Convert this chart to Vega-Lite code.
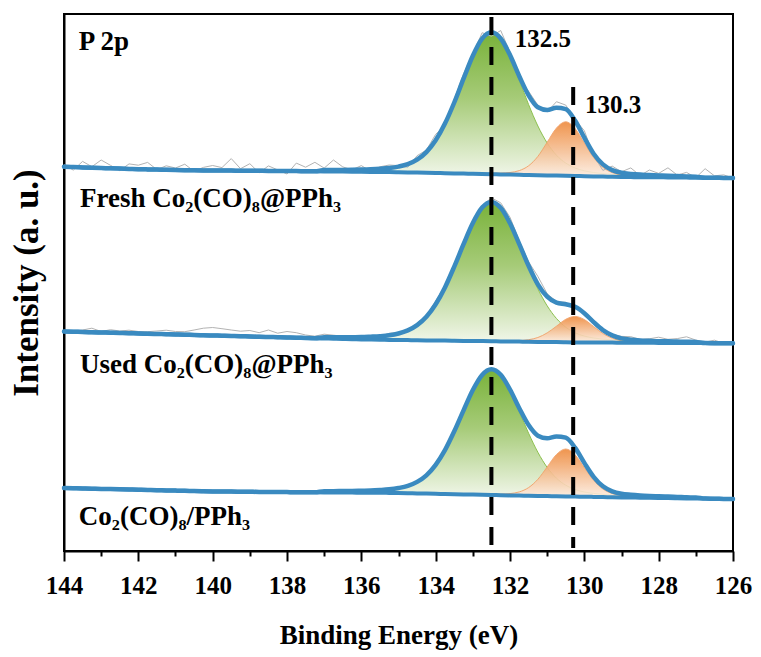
{
"$schema": "https://vega.github.io/schema/vega-lite/v6.json",
"width": 669, "height": 537,
"autosize": {"type": "none"},
"padding": {"left": 64, "top": 14, "right": 28, "bottom": 106},
"background": "white",
"config": {
 "view": {"stroke": "black", "strokeWidth": 2},
 "font": "Liberation Serif, serif",
 "style": {"guide-label": {"font": "Liberation Serif, serif", "fontWeight": "bold", "fill": "black"}, "guide-title": {"font": "Liberation Serif, serif", "fontWeight": "bold", "fill": "black"}},
 "axis": {"labelFont": "Liberation Serif, serif", "titleFont": "Liberation Serif, serif", "labelFontWeight": "bold", "titleFontWeight": "bold", "labelColor": "black", "titleColor": "black", "grid": false, "domainColor": "black", "tickColor": "black"}
},
"resolve": {"axis": {"x": "independent"}},
"datasets": {
"s": [
{"p":"a","E":144,"bg":384.3,"env":384.3,"raw":386.3},
{"p":"a","E":143.75,"bg":383.9,"env":383.9,"raw":380.9},
{"p":"a","E":143.5,"bg":383.6,"env":383.6,"raw":389.6},
{"p":"a","E":143.25,"bg":383.3,"env":383.3,"raw":384.3},
{"p":"a","E":143,"bg":383,"env":383,"raw":391},
{"p":"a","E":142.75,"bg":382.7,"env":382.7,"raw":385.7},
{"p":"a","E":142.5,"bg":382.4,"env":382.4,"raw":380.4},
{"p":"a","E":142.25,"bg":382.1,"env":382.1,"raw":387.1},
{"p":"a","E":142,"bg":381.8,"env":381.8,"raw":385.8},
{"p":"a","E":141.75,"bg":381.6,"env":381.6,"raw":388.6},
{"p":"a","E":141.5,"bg":381.4,"env":381.4,"raw":381.4},
{"p":"a","E":141.25,"bg":381.2,"env":381.2,"raw":385.2},
{"p":"a","E":141,"bg":381,"env":381,"raw":383},
{"p":"a","E":140.75,"bg":380.8,"env":380.8,"raw":386.8},
{"p":"a","E":140.5,"bg":380.7,"env":380.7,"raw":379.7},
{"p":"a","E":140.25,"bg":380.6,"env":380.6,"raw":383.6},
{"p":"a","E":140,"bg":380.5,"env":380.5,"raw":385.5},
{"p":"a","E":139.75,"bg":380.4,"env":380.4,"raw":383.4},
{"p":"a","E":139.5,"bg":380.4,"env":380.4,"raw":392.4},
{"p":"a","E":139.25,"bg":380.3,"env":380.3,"raw":382.3},
{"p":"a","E":139,"bg":380.3,"env":380.3,"raw":387.3},
{"p":"a","E":138.75,"bg":380.2,"env":380.2,"raw":378.2},
{"p":"a","E":138.5,"bg":380.1,"env":380.1,"raw":385.1},
{"p":"a","E":138.25,"bg":380.1,"env":380.1,"raw":381.1},
{"p":"a","E":138,"bg":380,"env":380,"raw":377},
{"p":"a","E":137.75,"bg":379.9,"env":379.9,"raw":387.9},
{"p":"a","E":137.5,"bg":379.8,"env":379.8,"raw":383.8},
{"p":"a","E":137.25,"bg":379.7,"env":379.7,"raw":388.7},
{"p":"a","E":137,"bg":379.6,"env":380.9,"raw":382.9},
{"p":"a","E":136.75,"bg":379.5,"env":381,"raw":391},
{"p":"a","E":136.5,"bg":379.4,"env":381.1,"raw":384.1},
{"p":"a","E":136.25,"bg":379.3,"env":381.2,"raw":381.2},
{"p":"a","E":136,"bg":379.2,"env":381.4,"gt":381.3,"ot":379.3,"raw":385.4},
{"p":"a","E":135.75,"bg":379.1,"env":381.7,"gt":381.6,"ot":379.2,"raw":379.7},
{"p":"a","E":135.5,"bg":379,"env":382.2,"gt":382,"ot":379.2,"raw":384.2},
{"p":"a","E":135.25,"bg":378.9,"env":383,"gt":382.8,"ot":379.1,"raw":386},
{"p":"a","E":135,"bg":378.8,"env":384.4,"gt":384.2,"ot":379,"raw":385.4},
{"p":"a","E":134.75,"bg":378.6,"env":386.8,"gt":386.6,"ot":378.8,"raw":383.8},
{"p":"a","E":134.5,"bg":378.4,"env":391.3,"gt":391.1,"ot":378.6,"raw":395.3},
{"p":"a","E":134.25,"bg":378.2,"env":398.9,"gt":398.6,"ot":378.5,"raw":400.9},
{"p":"a","E":134,"bg":378,"env":410.7,"gt":410.4,"ot":378.3,"raw":416.7},
{"p":"a","E":133.75,"bg":377.8,"env":427.4,"gt":427,"ot":378.2,"raw":425.4},
{"p":"a","E":133.5,"bg":377.6,"env":448.5,"gt":448.1,"ot":378,"raw":451.5},
{"p":"a","E":133.25,"bg":377.4,"env":472.3,"gt":471.8,"ot":377.9,"raw":477.3},
{"p":"a","E":133,"bg":377.2,"env":495.2,"gt":494.6,"ot":377.8,"raw":497.2},
{"p":"a","E":132.75,"bg":377,"env":512.3,"gt":511.6,"ot":377.7,"raw":518.3},
{"p":"a","E":132.5,"bg":376.8,"env":518.7,"gt":517.8,"ot":377.7,"raw":514.7},
{"p":"a","E":132.25,"bg":376.6,"env":512.5,"gt":511.2,"ot":377.9,"raw":520.5},
{"p":"a","E":132,"bg":376.4,"env":495.9,"gt":493.8,"ot":378.5,"raw":498.9},
{"p":"a","E":131.75,"bg":376.2,"env":474.8,"gt":470.6,"ot":380.4,"raw":471.8},
{"p":"a","E":131.5,"bg":376,"env":455.7,"gt":446.5,"ot":385.2,"raw":459.7},
{"p":"a","E":131.25,"bg":375.8,"env":443.8,"gt":425,"ot":394.6,"raw":445.8},
{"p":"a","E":131,"bg":375.6,"env":441.1,"gt":408,"ot":408.7,"raw":439.1},
{"p":"a","E":130.75,"bg":375.4,"env":443.3,"gt":395.8,"ot":422.9,"raw":449.3},
{"p":"a","E":130.5,"bg":375.2,"env":441.9,"gt":387.9,"ot":429.2,"raw":445.9},
{"p":"a","E":130.25,"bg":375,"env":430.5,"gt":383,"ot":422.5,"raw":431.5},
{"p":"a","E":130,"bg":374.8,"env":413.3,"gt":380.2,"ot":407.9,"raw":420.3},
{"p":"a","E":129.75,"bg":374.6,"env":397.3,"gt":378.5,"ot":393.4,"raw":395.3},
{"p":"a","E":129.5,"bg":374.4,"env":386.6,"gt":377.4,"ot":383.6,"raw":380.6},
{"p":"a","E":129.25,"bg":374.2,"env":380.9,"gt":376.7,"ot":378.4,"raw":384.9},
{"p":"a","E":129,"bg":374,"env":378.2,"gt":376.1,"ot":376.1,"raw":379.2},
{"p":"a","E":128.75,"bg":373.9,"env":377.1,"gt":375.8,"ot":375.2,"raw":383.1},
{"p":"a","E":128.5,"bg":373.8,"env":376.4,"gt":375.5,"ot":374.7,"raw":375.4},
{"p":"a","E":128.25,"bg":373.8,"env":376,"gt":375.3,"ot":374.5,"raw":381},
{"p":"a","E":128,"bg":373.7,"env":375.6,"gt":375,"ot":374.3,"raw":377.6},
{"p":"a","E":127.75,"bg":373.6,"env":375.2,"raw":383.2},
{"p":"a","E":127.5,"bg":373.5,"env":374.9,"raw":375.9},
{"p":"a","E":127.25,"bg":373.4,"env":374.6,"raw":378.6},
{"p":"a","E":127,"bg":373.3,"env":374.3,"raw":373.3},
{"p":"a","E":126.75,"bg":373.3,"env":373.3,"raw":382.3},
{"p":"a","E":126.5,"bg":373.2,"env":373.2,"raw":375.2},
{"p":"a","E":126.25,"bg":373.1,"env":373.1,"raw":376.1},
{"p":"a","E":126,"bg":373,"env":373,"raw":373},
{"p":"b","E":144,"bg":219.5,"env":219.5,"raw":220.5},
{"p":"b","E":143.75,"bg":219.3,"env":219.3,"raw":219.3},
{"p":"b","E":143.5,"bg":219,"env":219,"raw":221},
{"p":"b","E":143.25,"bg":218.8,"env":218.8,"raw":222.8},
{"p":"b","E":143,"bg":218.5,"env":218.5,"raw":219.5},
{"p":"b","E":142.75,"bg":218.3,"env":218.3,"raw":221.3},
{"p":"b","E":142.5,"bg":218,"env":218,"raw":220},
{"p":"b","E":142.25,"bg":217.8,"env":217.8,"raw":220.8},
{"p":"b","E":142,"bg":217.5,"env":217.5,"raw":219.5},
{"p":"b","E":141.75,"bg":217.3,"env":217.3,"raw":219.3},
{"p":"b","E":141.5,"bg":217,"env":217,"raw":220},
{"p":"b","E":141.25,"bg":216.8,"env":216.8,"raw":220.8},
{"p":"b","E":141,"bg":216.5,"env":216.5,"raw":219.5},
{"p":"b","E":140.75,"bg":216.3,"env":216.3,"raw":219.3},
{"p":"b","E":140.5,"bg":216,"env":216,"raw":221},
{"p":"b","E":140.25,"bg":215.8,"env":215.8,"raw":222.8},
{"p":"b","E":140,"bg":215.5,"env":215.5,"raw":223.5},
{"p":"b","E":139.75,"bg":215.3,"env":215.3,"raw":222.3},
{"p":"b","E":139.5,"bg":215,"env":215,"raw":221},
{"p":"b","E":139.25,"bg":214.8,"env":214.8,"raw":219.8},
{"p":"b","E":139,"bg":214.5,"env":214.5,"raw":220.5},
{"p":"b","E":138.75,"bg":214.3,"env":214.3,"raw":218.3},
{"p":"b","E":138.5,"bg":214,"env":214,"raw":221},
{"p":"b","E":138.25,"bg":213.8,"env":213.8,"raw":217.8},
{"p":"b","E":138,"bg":213.5,"env":213.5,"raw":219.5},
{"p":"b","E":137.75,"bg":213.3,"env":213.3,"raw":218.3},
{"p":"b","E":137.5,"bg":213,"env":213,"raw":216},
{"p":"b","E":137.25,"bg":212.8,"env":212.8,"raw":214.8},
{"p":"b","E":137,"bg":212.5,"env":213.8,"raw":216.8},
{"p":"b","E":136.75,"bg":212.3,"env":213.8,"raw":215.8},
{"p":"b","E":136.5,"bg":212,"env":213.7,"raw":214.7},
{"p":"b","E":136.25,"bg":211.8,"env":213.8,"raw":213.8},
{"p":"b","E":136,"bg":211.5,"env":213.9,"gt":213.8,"ot":211.6,"raw":212.9},
{"p":"b","E":135.75,"bg":211.4,"env":214.3,"gt":214.2,"ot":211.5,"raw":215.3},
{"p":"b","E":135.5,"bg":211.3,"env":214.8,"gt":214.7,"ot":211.4,"raw":214.8},
{"p":"b","E":135.25,"bg":211.1,"env":215.7,"gt":215.6,"ot":211.2,"raw":217.7},
{"p":"b","E":135,"bg":211,"env":217.5,"gt":217.4,"ot":211.1,"raw":218.5},
{"p":"b","E":134.75,"bg":210.9,"env":220.6,"gt":220.5,"ot":211,"raw":219.6},
{"p":"b","E":134.5,"bg":210.8,"env":225.9,"gt":225.8,"ot":210.9,"raw":227.9},
{"p":"b","E":134.25,"bg":210.6,"env":234.3,"gt":234.2,"ot":210.7,"raw":235.3},
{"p":"b","E":134,"bg":210.5,"env":246.8,"gt":246.7,"ot":210.6,"raw":249.8},
{"p":"b","E":133.75,"bg":210.4,"env":263.6,"gt":263.5,"ot":210.5,"raw":265.6},
{"p":"b","E":133.5,"bg":210.3,"env":284.4,"gt":284.2,"ot":210.5,"raw":285.4},
{"p":"b","E":133.25,"bg":210.1,"env":306.8,"gt":306.6,"ot":210.3,"raw":309.8},
{"p":"b","E":133,"bg":210,"env":327.9,"gt":327.7,"ot":210.2,"raw":329.9},
{"p":"b","E":132.75,"bg":209.9,"env":343.4,"gt":343.1,"ot":210.2,"raw":345.4},
{"p":"b","E":132.5,"bg":209.8,"env":349.1,"gt":348.8,"ot":210.1,"raw":353.1},
{"p":"b","E":132.25,"bg":209.6,"env":343.2,"gt":342.8,"ot":210,"raw":348.2},
{"p":"b","E":132,"bg":209.5,"env":327.8,"gt":327.2,"ot":210.1,"raw":333.8},
{"p":"b","E":131.75,"bg":209.4,"env":306.9,"gt":305.9,"ot":210.4,"raw":309.9},
{"p":"b","E":131.5,"bg":209.3,"env":285.2,"gt":283.2,"ot":211.3,"raw":289.2},
{"p":"b","E":131.25,"bg":209.1,"env":266.6,"gt":262.2,"ot":213.5,"raw":274.6},
{"p":"b","E":131,"bg":209,"env":254.3,"gt":245.2,"ot":218.1,"raw":257.3},
{"p":"b","E":130.75,"bg":208.9,"env":248.4,"gt":232.5,"ot":224.8,"raw":249.4},
{"p":"b","E":130.5,"bg":208.8,"env":246.7,"gt":223.8,"ot":231.7,"raw":248.7},
{"p":"b","E":130.25,"bg":208.6,"env":244.2,"gt":218.2,"ot":234.6,"raw":243.2},
{"p":"b","E":130,"bg":208.5,"env":237.8,"gt":214.9,"ot":231.4,"raw":238.8},
{"p":"b","E":129.75,"bg":208.5,"env":228.9,"gt":213,"ot":224.4,"raw":230.9},
{"p":"b","E":129.5,"bg":208.4,"env":220.9,"gt":211.8,"ot":217.5,"raw":220.9},
{"p":"b","E":129.25,"bg":208.4,"env":215.6,"gt":211.2,"ot":212.8,"raw":216.6},
{"p":"b","E":129,"bg":208.3,"env":212.6,"gt":210.6,"ot":210.3,"raw":214.6},
{"p":"b","E":128.75,"bg":208.3,"env":211.3,"gt":210.3,"ot":209.3,"raw":214.3},
{"p":"b","E":128.5,"bg":208.2,"env":210.6,"gt":210,"ot":208.8,"raw":211.6},
{"p":"b","E":128.25,"bg":208.2,"env":210.2,"gt":209.8,"ot":208.6,"raw":212.2},
{"p":"b","E":128,"bg":208.1,"env":209.8,"gt":209.5,"ot":208.4,"raw":213.8},
{"p":"b","E":127.75,"bg":208.1,"env":209.7,"raw":211.7},
{"p":"b","E":127.5,"bg":208,"env":209.4,"raw":212.4},
{"p":"b","E":127.25,"bg":208,"env":209.2,"raw":214.2},
{"p":"b","E":127,"bg":207.9,"env":208.9,"raw":210.9},
{"p":"b","E":126.75,"bg":207.9,"env":207.9,"raw":208.9},
{"p":"b","E":126.5,"bg":207.8,"env":207.8,"raw":210.8},
{"p":"b","E":126.25,"bg":207.8,"env":207.8,"raw":207.8},
{"p":"b","E":126,"bg":207.7,"env":207.7,"raw":208.7},
{"p":"c","E":144,"bg":63,"env":63},
{"p":"c","E":143.75,"bg":62.8,"env":62.8},
{"p":"c","E":143.5,"bg":62.6,"env":62.6},
{"p":"c","E":143.25,"bg":62.3,"env":62.3},
{"p":"c","E":143,"bg":62.1,"env":62.1},
{"p":"c","E":142.75,"bg":61.9,"env":61.9},
{"p":"c","E":142.5,"bg":61.7,"env":61.7},
{"p":"c","E":142.25,"bg":61.5,"env":61.5},
{"p":"c","E":142,"bg":61.3,"env":61.3},
{"p":"c","E":141.75,"bg":61,"env":61},
{"p":"c","E":141.5,"bg":60.8,"env":60.8},
{"p":"c","E":141.25,"bg":60.6,"env":60.6},
{"p":"c","E":141,"bg":60.4,"env":60.4},
{"p":"c","E":140.75,"bg":60.2,"env":60.2},
{"p":"c","E":140.5,"bg":59.9,"env":59.9},
{"p":"c","E":140.25,"bg":59.7,"env":59.7},
{"p":"c","E":140,"bg":59.5,"env":59.5},
{"p":"c","E":139.75,"bg":59.4,"env":59.4},
{"p":"c","E":139.5,"bg":59.4,"env":59.4},
{"p":"c","E":139.25,"bg":59.3,"env":59.3},
{"p":"c","E":139,"bg":59.2,"env":59.2},
{"p":"c","E":138.75,"bg":59.1,"env":59.1},
{"p":"c","E":138.5,"bg":59.1,"env":59.1},
{"p":"c","E":138.25,"bg":59,"env":59},
{"p":"c","E":138,"bg":58.9,"env":58.9},
{"p":"c","E":137.75,"bg":58.8,"env":58.8},
{"p":"c","E":137.5,"bg":58.8,"env":58.8},
{"p":"c","E":137.25,"bg":58.7,"env":58.7},
{"p":"c","E":137,"bg":58.6,"env":59.8},
{"p":"c","E":136.75,"bg":58.5,"env":59.8},
{"p":"c","E":136.5,"bg":58.5,"env":60},
{"p":"c","E":136.25,"bg":58.4,"env":60.1},
{"p":"c","E":136,"bg":58.3,"env":60.3,"gt":60.2,"ot":58.4},
{"p":"c","E":135.75,"bg":58.2,"env":60.5,"gt":60.4,"ot":58.3},
{"p":"c","E":135.5,"bg":58.2,"env":61,"gt":60.9,"ot":58.3},
{"p":"c","E":135.25,"bg":58.1,"env":61.7,"gt":61.6,"ot":58.2},
{"p":"c","E":135,"bg":58,"env":63,"gt":62.8,"ot":58.2},
{"p":"c","E":134.75,"bg":57.8,"env":65.1,"gt":64.9,"ot":58},
{"p":"c","E":134.5,"bg":57.6,"env":69.1,"gt":68.9,"ot":57.8},
{"p":"c","E":134.25,"bg":57.4,"env":75.7,"gt":75.5,"ot":57.6},
{"p":"c","E":134,"bg":57.2,"env":86.2,"gt":85.9,"ot":57.5},
{"p":"c","E":133.75,"bg":57,"env":100.9,"gt":100.6,"ot":57.3},
{"p":"c","E":133.5,"bg":56.8,"env":119.7,"gt":119.3,"ot":57.2},
{"p":"c","E":133.25,"bg":56.6,"env":140.7,"gt":140.3,"ot":57},
{"p":"c","E":133,"bg":56.4,"env":161,"gt":160.5,"ot":56.9},
{"p":"c","E":132.75,"bg":56.2,"env":176.1,"gt":175.5,"ot":56.8},
{"p":"c","E":132.5,"bg":56,"env":181.8,"gt":181,"ot":56.8},
{"p":"c","E":132.25,"bg":55.8,"env":176.2,"gt":175.1,"ot":56.9},
{"p":"c","E":132,"bg":55.6,"env":161.5,"gt":159.7,"ot":57.4},
{"p":"c","E":131.75,"bg":55.4,"env":142.8,"gt":139.1,"ot":59.1},
{"p":"c","E":131.5,"bg":55.3,"env":125.9,"gt":117.8,"ot":63.4},
{"p":"c","E":131.25,"bg":55.1,"env":115.3,"gt":98.7,"ot":71.7},
{"p":"c","E":131,"bg":54.9,"env":112.7,"gt":83.6,"ot":84},
{"p":"c","E":130.75,"bg":54.7,"env":114.6,"gt":72.8,"ot":96.5},
{"p":"c","E":130.5,"bg":54.5,"env":113.3,"gt":65.8,"ot":102},
{"p":"c","E":130.25,"bg":54.4,"env":103.3,"gt":61.5,"ot":96.2},
{"p":"c","E":130,"bg":54.2,"env":88.1,"gt":59,"ot":83.3},
{"p":"c","E":129.75,"bg":54.1,"env":74.2,"gt":57.6,"ot":70.7},
{"p":"c","E":129.5,"bg":53.9,"env":64.7,"gt":56.6,"ot":62},
{"p":"c","E":129.25,"bg":53.8,"env":59.7,"gt":56,"ot":57.5},
{"p":"c","E":129,"bg":53.6,"env":57.3,"gt":55.5,"ot":55.4},
{"p":"c","E":128.75,"bg":53.5,"env":56.3,"gt":55.2,"ot":54.6},
{"p":"c","E":128.5,"bg":53.3,"env":55.6,"gt":54.8,"ot":54.1},
{"p":"c","E":128.25,"bg":53.2,"env":55.1,"gt":54.5,"ot":53.8},
{"p":"c","E":128,"bg":53,"env":54.7,"gt":54.2,"ot":53.5},
{"p":"c","E":127.75,"bg":52.9,"env":54.4},
{"p":"c","E":127.5,"bg":52.8,"env":54.1},
{"p":"c","E":127.25,"bg":52.6,"env":53.7},
{"p":"c","E":127,"bg":52.5,"env":53.5},
{"p":"c","E":126.75,"bg":52.4,"env":52.4},
{"p":"c","E":126.5,"bg":52.3,"env":52.3},
{"p":"c","E":126.25,"bg":52.1,"env":52.1},
{"p":"c","E":126,"bg":52,"env":52}
],
"dash": [
{"E":132.5,"top":534,"bot":3},
{"E":130.3,"top":464,"bot":3}
],
"lab": [
{"E":143.6,"I":501,"t":"P 2p"},
{"E":143.57,"I":344.3,"t":"Fresh Co₂(CO)₈@PPh₃"},
{"E":143.57,"I":178.3,"t":"Used Co₂(CO)₈@PPh₃"},
{"E":143.6,"I":26,"t":"Co₂(CO)₈/PPh₃"}
],
"pk": [
{"E":131.87,"I":504.3,"t":"132.5"},
{"E":129.98,"I":438.3,"t":"130.3"}
]
},
"layer": [
{
"data": {"name": "s"},
"transform": [{"filter": "isValid(datum.gt)"}],
"mark": {"type": "area", "interpolate": "monotone", "stroke": "#8cc04e", "strokeWidth": 1,
 "fill": {"gradient": "linear", "x1": 0, "y1": 0, "x2": 0, "y2": 1,
  "stops": [{"offset": 0, "color": "#79b23a"}, {"offset": 0.45, "color": "#a6cb78"}, {"offset": 1, "color": "#f2f7eb"}]}},
"encoding": {
 "x": {"field": "E", "type": "quantitative", "title": "Binding Energy (eV)",
  "scale": {"domain": [144, 126], "nice": false, "zero": false},
  "axis": {"orient": "bottom", "values": [144,142,140,138,136,134,132,130,128,126],
   "tickSize": 10, "tickWidth": 2, "tickColor": "black", "domainColor": "black", "domainWidth": 2, "grid": false,
   "labelFont": "Liberation Serif, serif", "labelFontWeight": "bold", "labelFontSize": 25, "labelColor": "black",
   "labelBaseline": "alphabetic", "labelPadding": 32, "labelFlush": false, "labelOverlap": false, "labelBound": false,
   "titleFont": "Liberation Serif, serif", "titleFontWeight": "bold", "titleFontSize": 27, "titleColor": "black",
   "titleBaseline": "alphabetic", "titleY": 92}},
 "y": {"field": "gt", "type": "quantitative", "title": "Intensity (a. u.)",
  "scale": {"domain": [0, 537], "nice": false, "zero": false},
  "axis": {"ticks": false, "labels": false, "domain": true, "domainColor": "black", "domainWidth": 2, "grid": false,
   "titleFont": "Liberation Serif, serif", "titleFontWeight": "bold", "titleFontSize": 35, "titleColor": "black",
   "titleBaseline": "alphabetic", "titleX": -27, "titleY": 268.5, "titleAngle": -90}},
 "y2": {"field": "bg"},
 "detail": {"field": "p"}
}
},
{
"data": {"name": "s"},
"transform": [{"filter": "isValid(datum.ot)"}],
"mark": {"type": "area", "interpolate": "monotone", "stroke": "#f2a066", "strokeWidth": 1, "opacity": 0.9,
 "fill": {"gradient": "linear", "x1": 0, "y1": 0, "x2": 0, "y2": 1,
  "stops": [{"offset": 0, "color": "#ee8a3c"}, {"offset": 1, "color": "#fdefe4"}]}},
"encoding": {
 "x": {"field": "E", "type": "quantitative", "axis": null, "scale": {"domain": [144, 126], "nice": false, "zero": false}},
 "y": {"field": "ot", "type": "quantitative", "title": "Intensity (a. u.)", "scale": {"domain": [0, 537], "nice": false, "zero": false}},
 "y2": {"field": "bg"},
 "detail": {"field": "p"}
}
},
{
"data": {"name": "s"},
"transform": [{"filter": "isValid(datum.raw)"}],
"mark": {"type": "line", "color": "#b3b3b3", "strokeWidth": 1},
"encoding": {
 "x": {"field": "E", "type": "quantitative", "axis": null, "scale": {"domain": [144, 126], "nice": false, "zero": false}},
 "y": {"field": "raw", "type": "quantitative", "title": "Intensity (a. u.)", "scale": {"domain": [0, 537], "nice": false, "zero": false}},
 "detail": {"field": "p"}
}
},
{
"data": {"name": "s"},
"mark": {"type": "line", "interpolate": "monotone", "color": "#3a8ac0", "strokeWidth": 4, "strokeCap": "round"},
"encoding": {
 "x": {"field": "E", "type": "quantitative", "axis": null, "scale": {"domain": [144, 126], "nice": false, "zero": false}},
 "y": {"field": "bg", "type": "quantitative", "title": "Intensity (a. u.)", "scale": {"domain": [0, 537], "nice": false, "zero": false}},
 "detail": {"field": "p"}
}
},
{
"data": {"name": "s"},
"mark": {"type": "line", "interpolate": "monotone", "color": "#3a8ac0", "strokeWidth": 4.5, "strokeCap": "round"},
"encoding": {
 "x": {"field": "E", "type": "quantitative", "axis": null, "scale": {"domain": [144, 126], "nice": false, "zero": false}},
 "y": {"field": "env", "type": "quantitative", "title": "Intensity (a. u.)", "scale": {"domain": [0, 537], "nice": false, "zero": false}},
 "detail": {"field": "p"}
}
},
{
"data": {"name": "dash"},
"mark": {"type": "rule", "color": "black", "strokeWidth": 4, "strokeDash": [18, 12]},
"encoding": {
 "x": {"field": "E", "type": "quantitative", "title": null,
  "scale": {"domain": [144, 126], "nice": false, "zero": false},
  "axis": {"orient": "bottom", "values": [143,141,139,137,135,133,131,129,127], "labels": false, "domain": false,
   "tickSize": 5, "tickWidth": 2, "tickColor": "black", "grid": false, "title": null}},
 "y": {"field": "top", "type": "quantitative", "title": "Intensity (a. u.)", "scale": {"domain": [0, 537], "nice": false, "zero": false}},
 "y2": {"field": "bot"}
}
},
{
"data": {"name": "lab"},
"mark": {"type": "text", "align": "left", "baseline": "alphabetic", "font": "Liberation Serif", "fontWeight": "bold", "fontSize": 27, "color": "black"},
"encoding": {
 "x": {"field": "E", "type": "quantitative", "axis": null, "scale": {"domain": [144, 126], "nice": false, "zero": false}},
 "y": {"field": "I", "type": "quantitative", "title": "Intensity (a. u.)", "scale": {"domain": [0, 537], "nice": false, "zero": false}},
 "text": {"field": "t"}
}
},
{
"data": {"name": "pk"},
"mark": {"type": "text", "align": "left", "baseline": "alphabetic", "font": "Liberation Serif", "fontWeight": "bold", "fontSize": 25, "color": "black"},
"encoding": {
 "x": {"field": "E", "type": "quantitative", "axis": null, "scale": {"domain": [144, 126], "nice": false, "zero": false}},
 "y": {"field": "I", "type": "quantitative", "title": "Intensity (a. u.)", "scale": {"domain": [0, 537], "nice": false, "zero": false}},
 "text": {"field": "t"}
}
}
]
}
